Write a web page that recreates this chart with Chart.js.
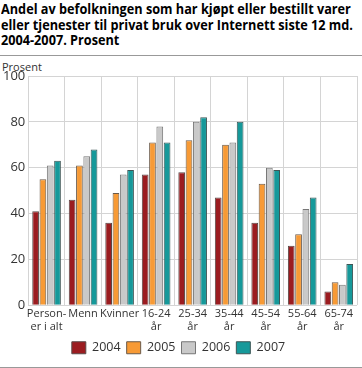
<!DOCTYPE html>
<html>
<head>
<meta charset="utf-8">
<script src="https://cdn.jsdelivr.net/npm/chart.js@4"></script>
<style>
  body { margin: 0; width: 362px; height: 368px; overflow: hidden; background: #fff; font-family: "Open Sans", sans-serif; }
  #title { position: absolute; left: 1px; top: 1px; font-size: 14px; font-weight: bold; line-height: 15.5px; color: #000; white-space: nowrap; transform-origin: 0 0; }
  .rule { position: absolute; left: 0; width: 362px; height: 1px; background: #999; }
  #unit { position: absolute; left: 2px; top: 59px; font-size: 11px; color: #333; }
  #wrap { position: absolute; left: 0; top: 60px; width: 362px; height: 304px; }
</style>
</head>
<body>
<div id="title">Andel av befolkningen som har kjøpt eller bestillt varer<br>eller tjenester til privat bruk over Internett siste 12 md.<br>2004-2007. Prosent</div>
<div class="rule" style="top:55px"></div>
<div id="unit">Prosent</div>
<div id="wrap"><canvas id="chart"></canvas></div>
<div class="rule" style="top:367px"></div>
<script>
const categories = [["Person-", "er i alt"], "Menn", "Kvinner", ["16-24", "år"], ["25-34", "år"], ["35-44", "år"], ["45-54", "år"], ["55-64", "år"], ["65-74", "år"]];
const years = ["2004", "2005", "2006", "2007"];
const v2004 = [41, 46, 36, 57, 58, 47, 36, 26, 6];
const v2005 = [55, 61, 49, 71, 72, 70, 53, 31, 10];
const v2006 = [61, 65, 57, 78, 80, 71, 60, 42, 9];
const v2007 = [63, 68, 59, 71, 82, 80, 59, 47, 18];
const yTicks = [0, 20, 40, 60, 80, 100];

const colors = ["#9b1c20", "#f79a35", "#c9c9c9", "#16999a"];
const borders = ["#5a4a48", "#6a5a4a", "#777777", "#3e5656"];
const series = [v2004, v2005, v2006, v2007];

// squeeze the title to the width it has in the original
let title = document.getElementById("title");
let w = title.getBoundingClientRect().width;
title.style.transform = "scaleX(" + (352 / w) + ")";

new Chart(document.getElementById("chart"), {
    type: "bar",
    data: {
        labels: categories,
        datasets: series.map((s, i) => ({
            label: years[i],
            data: s,
            backgroundColor: colors[i],
            borderColor: borders[i],
            borderWidth: 1,
            borderSkipped: "bottom",
            categoryPercentage: 0.8,
            barPercentage: 0.92
        }))
    },
    options: {
        responsive: true,
        maintainAspectRatio: false,
        animation: false,
        layout: { padding: { left: 0, right: 5, top: 16, bottom: 0 } },
        plugins: {
            legend: {
                position: "bottom",
                labels: { boxWidth: 14, boxHeight: 12, padding: 6, color: "#333", font: { family: "Open Sans", size: 12.5 } }
            },
            tooltip: { enabled: false }
        },
        scales: {
            x: {
                grid: { color: "#d4d4d4", offset: true, drawTicks: false },
                border: { display: false },
                ticks: { color: "#333", padding: 3, maxRotation: 0, autoSkip: false, font: { family: "Open Sans", size: 11, lineHeight: 1.1 } }
            },
            y: {
                min: 0, max: 100,
                afterBuildTicks: axis => { axis.ticks = yTicks.map(v => ({ value: v })); },
                grid: { color: "#d4d4d4", drawTicks: false },
                border: { display: false },
                ticks: { color: "#333", padding: 3, font: { family: "Open Sans", size: 13 } }
            }
        }
    }
});
</script>
</body>
</html>
